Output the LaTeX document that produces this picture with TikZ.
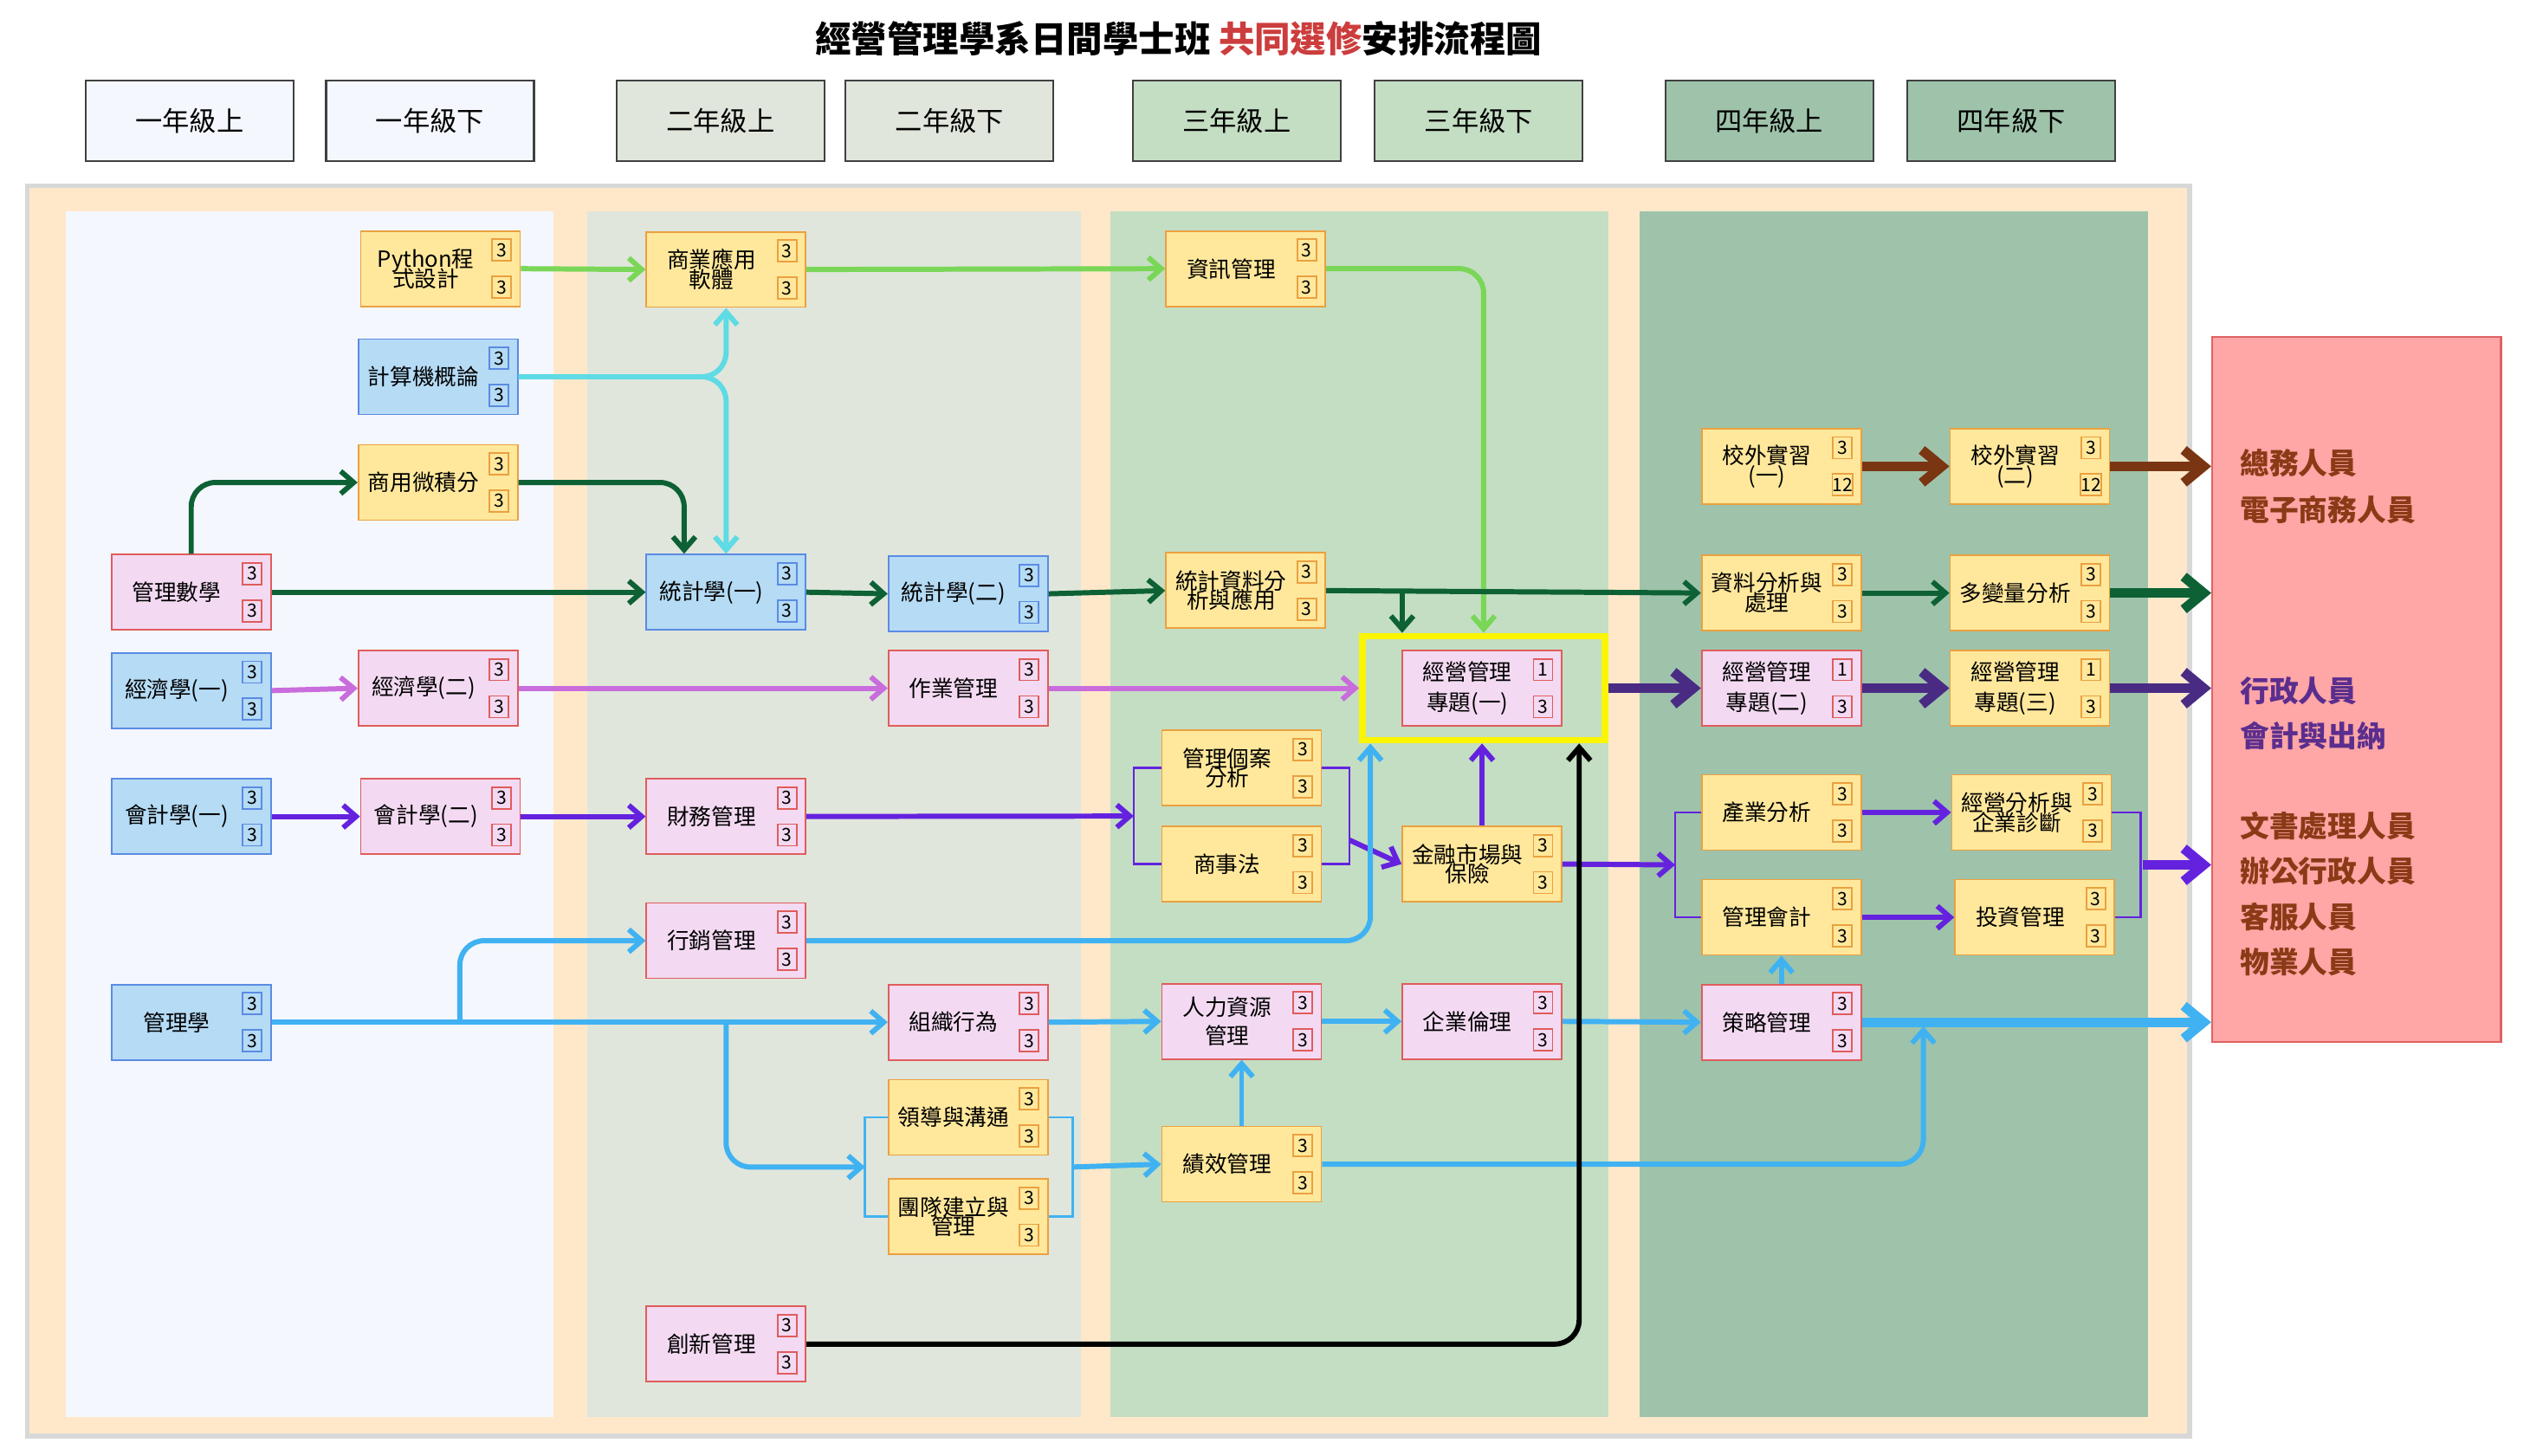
\documentclass[tikz,border=0pt]{standalone}
\usepackage{fontspec}
\setmainfont{Noto Sans CJK TC}
\usepackage{xcolor}
\usepackage{tikz}
\usetikzlibrary{arrows.meta}
\usetikzlibrary{calc}
\usetikzlibrary{positioning}

\definecolor{yelfill}{HTML}{FFE89C}
\definecolor{yeldraw}{HTML}{EBA040}
\definecolor{blufill}{HTML}{B5DBF5}
\definecolor{bludraw}{HTML}{5B8BE3}
\definecolor{pnkfill}{HTML}{F3DAF2}
\definecolor{pnkdraw}{HTML}{E05C5C}
\definecolor{peach}{HTML}{FFE8CA}
\definecolor{framegray}{HTML}{D8D8D8}
\definecolor{yr1}{HTML}{F4F7FD}
\definecolor{yr2}{HTML}{E0E6DC}
\definecolor{yr3}{HTML}{C4DEC3}
\definecolor{yr4}{HTML}{9EC3AA}
\definecolor{outfill}{HTML}{FFA6A6}
\definecolor{outdraw}{HTML}{E06262}
\definecolor{titred}{HTML}{CC3D3D}
\definecolor{lgrn}{HTML}{7AD657}
\definecolor{cyn}{HTML}{5EDBE4}
\definecolor{dgrn}{HTML}{0D6135}
\definecolor{vio}{HTML}{C96CDC}
\definecolor{dpur}{HTML}{4A2B84}
\definecolor{pur}{HTML}{6422DF}
\definecolor{sky}{HTML}{40B2F2}
\definecolor{brn}{HTML}{7A3512}
\definecolor{jobbrn}{HTML}{8A3A16}
\definecolor{jobpur}{HTML}{5B2E8E}
\definecolor{hiyel}{HTML}{FAF500}

\tikzset{
    course/.style = {rectangle, minimum width=1.84cm, minimum height=0.87cm, inner sep=0, line width=0.5pt},
    ctext/.style = {align=center, inner sep=0, font={\fontsize{7.3}{6.5}\selectfont\lineskiplimit-20pt\relax}},
    credit/.style = {rectangle, minimum width=0.22cm, minimum height=0.25cm, inner sep=0, line width=0.5pt, font=\fontsize{6}{6}\selectfont},
    yel/.style = {fill=yelfill, draw=yeldraw},
    blu/.style = {fill=blufill, draw=bludraw},
    pnk/.style = {fill=pnkfill, draw=pnkdraw},
    year/.style = {rectangle, draw=black!75, line width=0.6pt, minimum width=2.40cm, minimum height=0.93cm, font=\fontsize{8.9}{9}\selectfont},
}

% course box with its two credit boxes
\newcommand{\mkcourse}[6]{%
  \node[course,#1] (#2) at (#3) {};
  \node[ctext] (#2-t) at ($(#2.center)+(-9,0)$) {#4};
  \node[credit,#1] (#2-c1) at ($(#2.east)+(-12,-11.5)$) {#5};
  \node[credit,#1] (#2-c2) at ($(#2.east)+(-12,11.5)$) {#6};
}

\begin{document}
\begin{tikzpicture}[
	x=0.01863cm,
	y=-0.01863cm,
	flow/.style = {line width=1.7pt, rounded corners=0.28cm, -{Straight Barb[length=1.5mm,width=2.6mm]}},
	big/.style = {line width=3.2pt, -{Straight Barb[length=2.3mm,width=3.8mm]}},
	brk/.style = {line width=0.75pt},
	job/.style = {anchor=west, inner sep=0, font=\bfseries\fontsize{9.6}{10}\selectfont}
]
\useasboundingbox (0,0) rectangle (1568,902);
%
\draw[fill=peach, draw=framegray, line width=1.5pt] (17,115) rectangle (1357,890);
\fill[yr1] (41,131) rectangle (343,878);
\fill[yr2] (364,131) rectangle (670,878);
\fill[yr3] (688,131) rectangle (997,878);
\fill[yr4] (1016,131) rectangle (1331,878);
%
\node[font=\bfseries\fontsize{11.8}{12}\selectfont] (ttl) at (730.5,24) {經營管理學系日間學士班 \textcolor{titred}{共同選修}安排流程圖};
%
\node[year, fill=yr1] (h1a) at (117.5,75) {一年級上};
\node[year, fill=yr1] (h1b) at (266.5,75) {一年級下};
\node[year, fill=yr2] (h2a) at (446.5,75) {二年級上};
\node[year, fill=yr2] (h2b) at (588.5,75) {二年級下};
\node[year, fill=yr3] (h3a) at (766.5,75) {三年級上};
\node[year, fill=yr3] (h3b) at (916.5,75) {三年級下};
\node[year, fill=yr4] (h4a) at (1096.5,75) {四年級上};
\node[year, fill=yr4] (h4b) at (1246.5,75) {四年級下};
%
\node[rectangle, draw=hiyel, line width=2.2pt, minimum width=2.8cm, minimum height=1.2cm] (hl) at (919.5,426.5) {};
%
\mkcourse{pnk}{mm}{118.5,367}{管理數學}{3}{3}
\mkcourse{blu}{ec1}{118.5,428}{經濟學(一)}{3}{3}
\mkcourse{blu}{ac1}{118.5,506}{會計學(一)}{3}{3}
\mkcourse{blu}{mg}{118.5,633.5}{管理學}{3}{3}
%
\mkcourse{yel}{py}{273,166.5}{Python程\\式設計}{3}{3}
\mkcourse{blu}{cs}{271.5,233.5}{計算機概論}{3}{3}
\mkcourse{yel}{cal}{271.5,299}{商用微積分}{3}{3}
\mkcourse{pnk}{ec2}{271.5,426.5}{經濟學(二)}{3}{3}
\mkcourse{pnk}{ac2}{273,506}{會計學(二)}{3}{3}
%
\mkcourse{yel}{bas}{450,167}{商業應用\\軟體}{3}{3}
\mkcourse{blu}{st1}{450,367}{統計學(一)}{3}{3}
\mkcourse{pnk}{fm}{450,506}{財務管理}{3}{3}
\mkcourse{pnk}{mk}{450,583}{行銷管理}{3}{3}
\mkcourse{pnk}{cr}{450,833}{創新管理}{3}{3}
%
\mkcourse{blu}{st2}{600,368}{統計學(二)}{3}{3}
\mkcourse{pnk}{om}{600,426.5}{作業管理}{3}{3}
\mkcourse{pnk}{ob}{600,633.5}{組織行為}{3}{3}
\mkcourse{yel}{ld}{600,692.5}{領導與溝通}{3}{3}
\mkcourse{yel}{td}{600,754}{團隊建立與\\管理}{3}{3}
%
\mkcourse{yel}{im}{772,166.5}{資訊管理}{3}{3}
\mkcourse{yel}{sda}{772,366}{統計資料分\\析與應用}{3}{3}
\mkcourse{yel}{mc}{769.5,476}{管理個案\\分析}{3}{3}
\mkcourse{yel}{cl}{769.5,535.5}{商事法}{3}{3}
\mkcourse{pnk}{hr}{769.5,633}{人力資源\\[3pt]管理}{3}{3}
\mkcourse{yel}{pm}{769.5,721.5}{績效管理}{3}{3}
%
\mkcourse{pnk}{p1}{918.5,426.5}{經營管理\\[3.5pt]專題(一)}{1}{3}
\mkcourse{yel}{fi}{918.5,535.5}{金融市場與\\保險}{3}{3}
\mkcourse{pnk}{be}{918.5,633}{企業倫理}{3}{3}
%
\mkcourse{yel}{in1}{1104,289}{校外實習\\(一)}{3}{12}
\mkcourse{yel}{dap}{1104,367.5}{資料分析與\\處理}{3}{3}
\mkcourse{pnk}{p2}{1104,426.5}{經營管理\\[3.5pt]專題(二)}{1}{3}
\mkcourse{yel}{ia}{1104,503.5}{產業分析}{3}{3}
\mkcourse{yel}{ma}{1104,568.5}{管理會計}{3}{3}
\mkcourse{pnk}{sm}{1104,633.5}{策略管理}{3}{3}
%
\mkcourse{yel}{in2}{1258,289}{校外實習\\(二)}{3}{12}
\mkcourse{yel}{mva}{1258,367.5}{多變量分析}{3}{3}
\mkcourse{yel}{p3}{1258,426.5}{經營管理\\[3.5pt]專題(三)}{1}{3}
\mkcourse{yel}{ba}{1259,503.5}{經營分析與\\企業診斷}{3}{3}
\mkcourse{yel}{iv}{1261,568.5}{投資管理}{3}{3}
%
\node[rectangle, fill=outfill, draw=outdraw, line width=0.6pt, minimum width=3.335cm, minimum height=8.14cm] (out) at (1460.5,427.5) {};
\node[job, text=jobbrn] (o1) at (1388,287) {總務人員};
\node[job, text=jobbrn] (o2) at (1388,316) {電子商務人員};
\node[job, text=jobpur] (o3) at (1388,428) {行政人員};
\node[job, text=jobpur] (o4) at (1388,456) {會計與出納};
\node[job, text=jobbrn] (o5) at (1388,512) {文書處理人員};
\node[job, text=jobbrn] (o6) at (1388,540) {辦公行政人員};
\node[job, text=jobbrn] (o7) at (1388,568) {客服人員};
\node[job, text=jobbrn] (o8) at (1388,596) {物業人員};
%
\coordinate (j1) at (285,633.5);
\coordinate (j2) at (450,633.5);
\coordinate (j3) at (1192,636);
\coordinate (j4) at (869,366);
\coordinate (b1) at ($(mc.west)!0.5!(cl.west)+(-17,0)$);
\coordinate (b2) at ($(mc.east)!0.75!(cl.east)+(17,0)$);
\coordinate (b3) at ($(ia.west)!0.5!(ma.west)+(-16,0)$);
\coordinate (b4) at ($(ba.east)!0.5!(iv.east)+(18,0)$);
\coordinate (b5) at ($(ld.west)!0.5!(td.west)+(-14,0)$);
\coordinate (b6) at ($(ld.east)!0.5!(td.east)+(15,0)$);
%
\draw[flow,lgrn] (py.east) -- (bas.west);
\draw[flow,lgrn] (bas.east) -- (im.west);
\draw[flow,lgrn] (im.east) -| (hl.north);
%
\draw[flow,cyn] (cs.east) -| (bas.south);
\draw[flow,cyn] (cs.east) -| (st1.north);
%
\draw[flow,dgrn] (mm.north) |- (cal.west);
\draw[flow,dgrn] (cal.east) -| ($(st1.north)+(-26,0)$);
\draw[flow,dgrn] (mm.east) -- (st1.west);
\draw[flow,dgrn] (st1.east) -- (st2.west);
\draw[flow,dgrn] (st2.east) -- (sda.west);
\draw[flow,dgrn] (sda.east) -- (dap.west);
\draw[flow,dgrn] (j4) -- (j4 |- hl.north);
\draw[flow,dgrn] (dap.east) -- (mva.west);
\draw[big,dgrn] (mva.east) -- (mva.east -| out.west);
%
\draw[flow,vio] (ec1.east) -- (ec2.west);
\draw[flow,vio] (ec2.east) -- (om.west);
\draw[flow,vio] (om.east) -- (hl.west);
%
\draw[flow,pur] (ac1.east) -- (ac2.west);
\draw[flow,pur] (ac2.east) -- (fm.west);
\draw[flow,pur] (fm.east) -- (b1);
\draw[brk,pur] (mc.west) -- ++(-17,0) |- (cl.west);
\draw[brk,pur] (mc.east) -- ++(17,0) |- (cl.east);
\draw[flow,pur] (b2) -- (fi.west);
\draw[flow,pur] (fi.north) -- (fi.north |- hl.south);
\draw[flow,pur] (fi.east) -- (b3);
\draw[brk,pur] (ia.west) -- ++(-16,0) |- (ma.west);
\draw[flow,pur] (ia.east) -- (ba.west);
\draw[flow,pur] (ma.east) -- (iv.west);
\draw[brk,pur] (ba.east) -- ++(18,0) |- (iv.east);
\draw[big,pur] (b4) -- (b4 -| out.west);
%
\draw[flow,sky] (mg.east) -- (ob.west);
\draw[flow,sky] (j1) |- (mk.west);
\draw[flow,sky] (mk.east) -| ($(hl.south west)+(7,0)$);
\draw[flow,sky] (j2) |- (b5);
\draw[brk,sky] (ld.west) -- ++(-14,0) |- (td.west);
\draw[brk,sky] (ld.east) -- ++(15,0) |- (td.east);
\draw[flow,sky] (b6) -- (pm.west);
\draw[flow,sky] (pm.north) -- (hr.south);
\draw[flow,sky] (ob.east) -- (hr.west);
\draw[flow,sky] (hr.east) -- (be.west);
\draw[flow,sky] (be.east) -- (sm.west);
\draw[flow,sky] (sm.north) -- (ma.south);
\draw[flow,sky] (pm.east) -| (j3);
\draw[big,sky] (sm.east) -- (sm.east -| out.west);
%
\draw[big,brn] (in1.east) -- (in2.west);
\draw[big,brn] (in2.east) -- (in2.east -| out.west);
%
\draw[big,dpur] (hl.east) -- (p2.west);
\draw[big,dpur] (p2.east) -- (p3.west);
\draw[big,dpur] (p3.east) -- (p3.east -| out.west);
%
\draw[flow,black] (cr.east) -| ($(hl.south east)+(-18,0)$);
\end{tikzpicture}
\end{document}
